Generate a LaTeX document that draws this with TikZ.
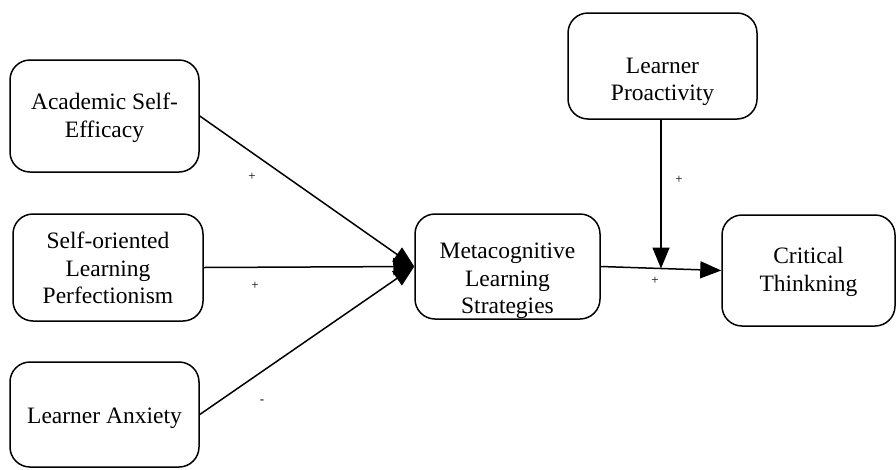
\documentclass[tikz,border=0pt]{standalone}
\usepackage{fontspec}
\setmainfont{Liberation Serif}
\usetikzlibrary{arrows.meta,calc}
\begin{document}
\begin{tikzpicture}[x=1pt,y=-1pt,
  box/.style={draw,line width=1.5pt,rounded corners=20pt,inner sep=0pt},
  txt/.style={align=center,font=\fontsize{23.5}{27.5}\selectfont,inner sep=0pt},
  sign/.style={font=\fontsize{13}{14}\selectfont,inner sep=0pt},
  conn/.style={line width=1.5pt,-{Triangle[length=21pt,width=17pt]}}]
\useasboundingbox (0,0) rectangle (896,469);
% boxes
\node[box,minimum width=189pt,minimum height=112pt] (ase) at (104.5,116) {};
\node[box,minimum width=190pt,minimum height=107pt] (sop) at (108,267.5) {};
\node[box,minimum width=189pt,minimum height=105pt] (la) at (104.5,414.5) {};
\node[box,minimum width=185pt,minimum height=105pt] (mls) at (507.5,266.5) {};
\node[box,minimum width=189pt,minimum height=106pt] (lp) at (662.5,66) {};
\node[box,minimum width=173pt,minimum height=111pt] (ct) at (808.5,270.5) {};
% texts
\node[txt] (tase) at (104.5,118) {Academic Self-\\Efficacy};
\node[txt] (tsop) at (108,268) {Self-oriented\\Learning\\Perfectionism};
\node[txt] (tla) at (104.5,418) {Learner Anxiety};
\node[txt] (tmls) at (507.5,281) {Metacognitive\\Learning\\Strategies};
\node[txt] (tlp) at (662.5,82) {Learner\\Proactivity};
\node[txt] (tct) at (808.5,272) {Critical\\Thinkning};
% connectors
\draw[conn] (ase.east) -- (mls.west);
\draw[conn] (sop.east) -- (mls.west);
\draw[conn] (la.east) -- (mls.west);
\draw[conn] (mls.east) -- (ct.west);
\coordinate (j) at ($(mls.east)!0.5!(ct.west)$);
\draw[conn] (j |- lp.south) -- (j);
% signs
\node[sign] (s1) at (252,177) {+};
\node[sign] (s2) at (255,286) {+};
\node[sign] (s3) at (262,402) {-};
\node[sign] (s4) at (679,180) {+};
\node[sign] (s5) at (655,281) {+};
\end{tikzpicture}
\end{document}
